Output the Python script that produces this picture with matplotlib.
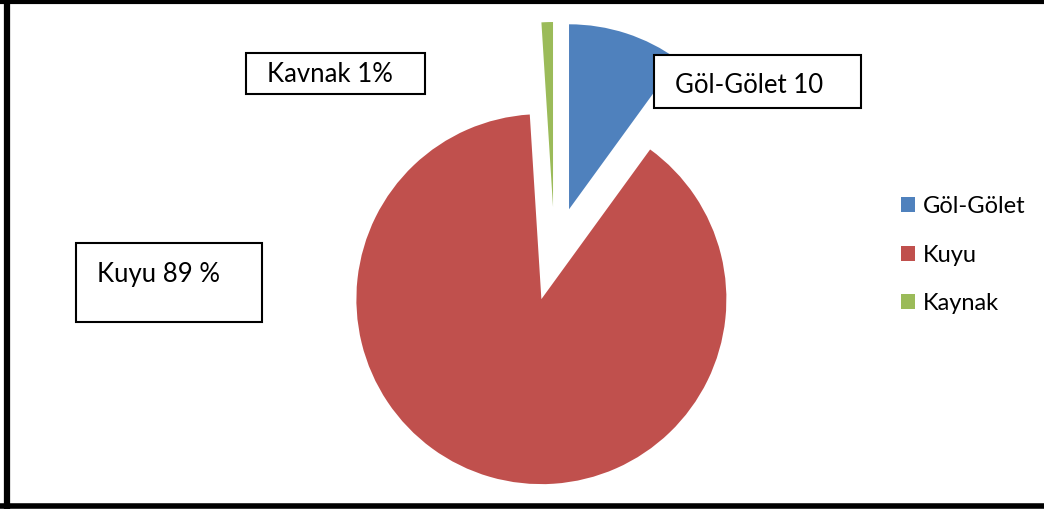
import matplotlib
matplotlib.use("Agg")
import matplotlib.pyplot as plt
from matplotlib.patches import Rectangle
from matplotlib.lines import Line2D

# Water source shares (%)
sources = ["Göl-Gölet", "Kuyu", "Kaynak"]
shares = [10, 89, 1]
colors = ["#4F81BD", "#C0504D", "#9BBB59"]
box_labels = ["Göl-Gölet 10", "Kuyu 89 %", "Kavnak 1%"]

W, H = 1044, 509
fig = plt.figure(figsize=(W / 100, H / 100), dpi=100)
ax = fig.add_axes([0, 0, 1, 1])

FONT = "Lato"

wedges, _ = ax.pie(
    shares,
    colors=colors,
    startangle=90,
    counterclock=False,
    explode=[47, 47, 47],
    radius=185,
    center=(554.5, H - 254),
    wedgeprops=dict(linewidth=0),
)
ax.set_xlim(0, W)
ax.set_ylim(0, H)
ax.set_aspect("equal")
ax.axis("off")

# Label boxes: (left, top, right, bottom) in pixels from top-left, text start
boxes = {
    "Göl-Gölet 10": ((654, 55, 861, 108), (675, 93)),
    "Kuyu 89 %": ((76, 243, 262, 322), (97, 282)),
    "Kavnak 1%": ((246, 53, 425, 94), (267, 82)),
}
for lab in box_labels:
    (l, t, r, b), (tx, ty) = boxes[lab]
    ax.add_patch(Rectangle((l, H - b), r - l, b - t, facecolor="white",
                           edgecolor="black", linewidth=1.5, zorder=3))
    ax.text(tx, H - ty, lab, fontsize=18.5, family=FONT, ha="left",
            va="baseline", color="black", zorder=4)

# Legend with square colour keys
handles = [Rectangle((0, 0), 1, 1, facecolor=c, edgecolor="none") for c in colors]
leg = ax.legend(handles, sources, loc="upper left",
                bbox_to_anchor=(901, H - 196), bbox_transform=ax.transData,
                frameon=False, prop=dict(family=FONT, size=17),
                handlelength=0.6, handleheight=0.6, handletextpad=0.33,
                labelspacing=1.17, borderpad=0, borderaxespad=0)

# Outer frame
ax.add_line(Line2D([6.5, 6.5], [0, H], color="black", linewidth=4.5, zorder=5))
ax.add_line(Line2D([0, W], [H - 1.5, H - 1.5], color="black", linewidth=3, zorder=5))
ax.add_line(Line2D([0, W], [H - 505.5, H - 505.5], color="black", linewidth=4, zorder=5))

fig.savefig("out.png", dpi=100)
